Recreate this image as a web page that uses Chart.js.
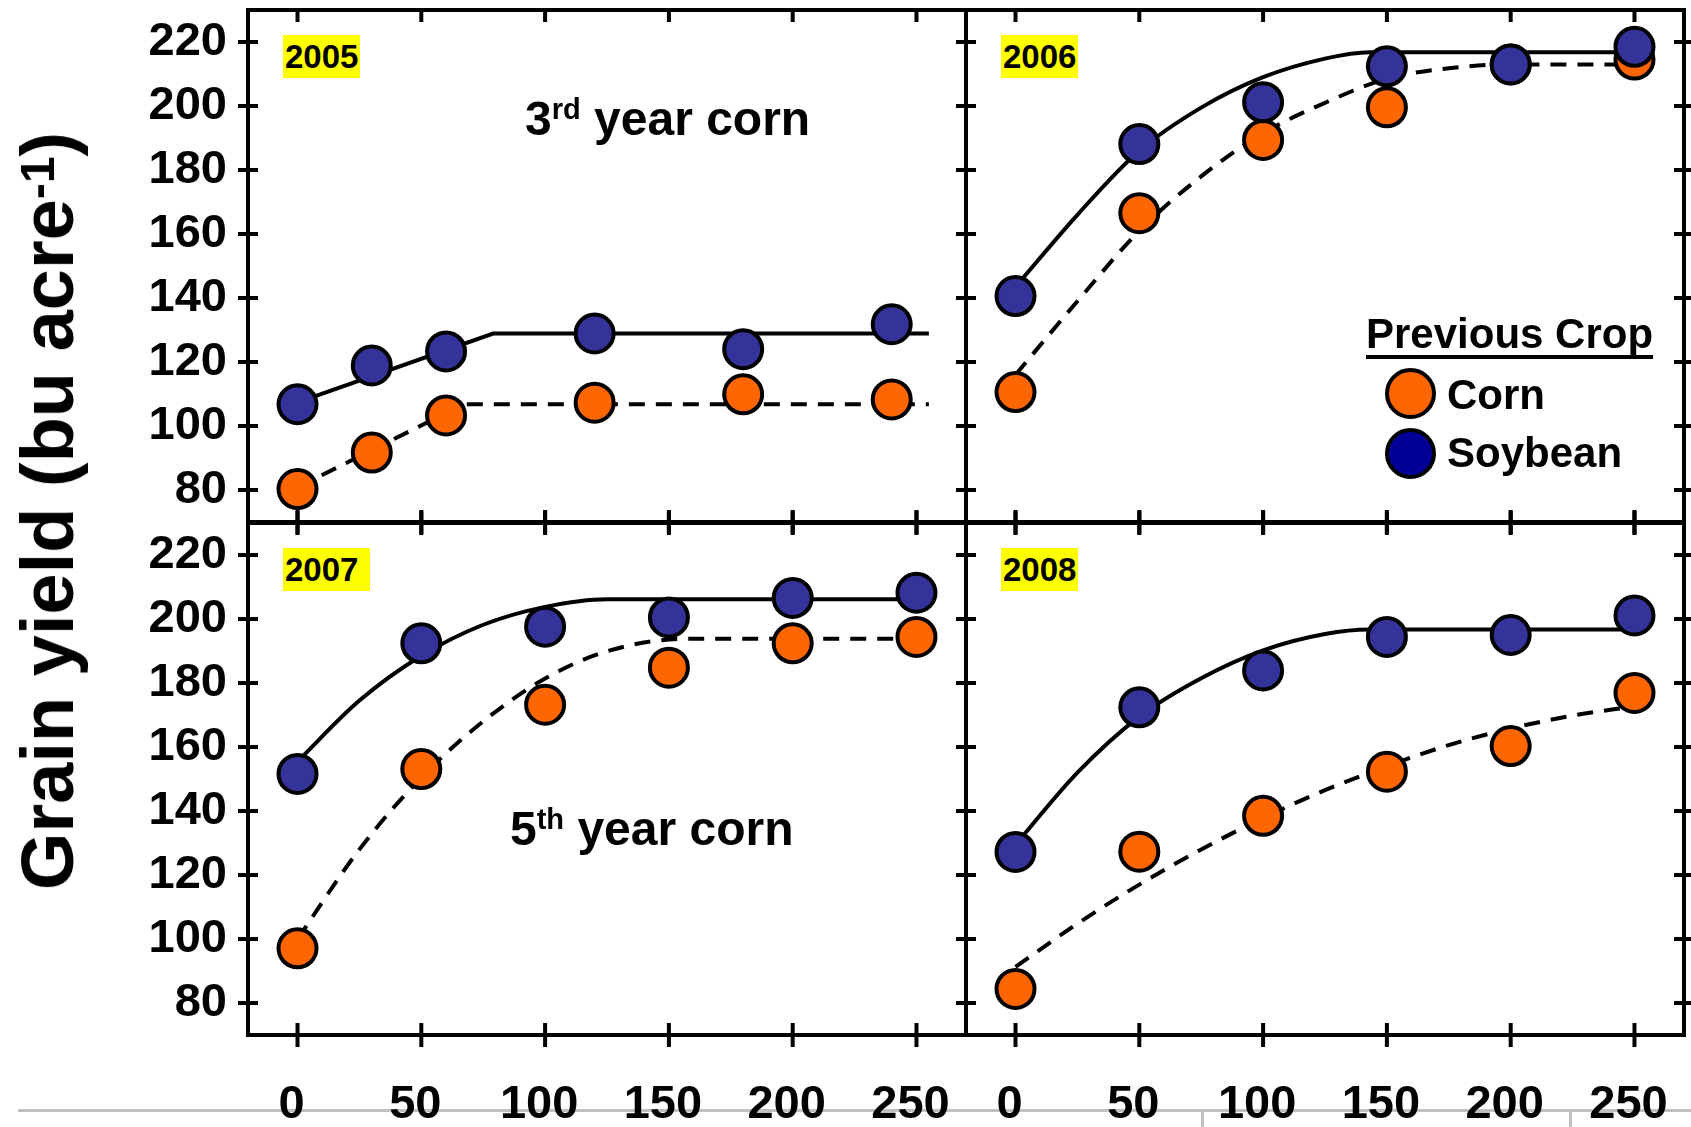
<!DOCTYPE html>
<html>
<head>
<meta charset="utf-8">
<title>Grain yield by N rate</title>
<script src="https://cdn.jsdelivr.net/npm/chart.js@4.4.1/dist/chart.umd.min.js"></script>
<style>
  body { margin: 0; background: #fff; }
  #page {
    position: relative; width: 1691px; height: 1127px; overflow: hidden; background: #fff;
    font-family: "Liberation Sans", Arial, sans-serif; font-weight: bold; color: #000;
  }
  canvas { position: absolute; }
  .gray { position: absolute; background: #c0c0c0; }
  .year { position: absolute; background: #ffff00; font-size: 33px; line-height: 43px; height: 43px; padding: 0 2px; white-space: pre; }
  .note { position: absolute; font-size: 48px; line-height: 48px; white-space: nowrap; }
  .note sup { font-size: 29px; line-height: 0; vertical-align: baseline; position: relative; top: -16px; }
  .legTxt { position: absolute; font-size: 42px; line-height: 42px; white-space: nowrap; }
  #legTitle { border-bottom: 4px solid #000; }
  .dot { position: absolute; width: 51px; height: 51px; box-sizing: border-box; border: 4px solid #000; border-radius: 50%; }
  #ytitle {
    position: absolute; left: 48px; top: 511px; font-size: 74px; line-height: 74px; white-space: nowrap;
    transform: translate(-50%, -50%) rotate(-90deg);
  }
  #ytitle sup { font-size: 48px; line-height: 0; vertical-align: baseline; position: relative; top: -19px; }
</style>
</head>
<body>
<div id="page">
  <div class="gray" style="left:18px;top:1109px;width:1673px;height:3px"></div>
  <div class="gray" style="left:1201px;top:1110px;width:3px;height:17px"></div>
  <div class="gray" style="left:1569px;top:1110px;width:3px;height:17px"></div>

  <canvas id="c2005" width="982" height="538" style="left:0;top:0"></canvas>
  <canvas id="c2006" width="741" height="538" style="left:950px;top:0"></canvas>
  <canvas id="c2007" width="982" height="620" style="left:0;top:507px"></canvas>
  <canvas id="c2008" width="741" height="620" style="left:950px;top:507px"></canvas>

  <div class="year" style="left:283px;top:35px">2005</div>
  <div class="year" style="left:1001px;top:35px">2006</div>
  <div class="year" style="left:283px;top:548px">2007 </div>
  <div class="year" style="left:1001px;top:548px">2008</div>

  <div class="note" style="left:525px;top:95px">3<sup>rd</sup> year corn</div>
  <div class="note" style="left:510px;top:805px">5<sup>th</sup> year corn</div>

  <div class="legTxt" id="legTitle" style="left:1366px;top:313px">Previous Crop</div>
  <div class="dot" style="left:1385px;top:368px;background:#ff6600"></div>
  <div class="legTxt" style="left:1447px;top:374px">Corn</div>
  <div class="dot" style="left:1385px;top:428px;background:#000099"></div>
  <div class="legTxt" style="left:1447px;top:432px">Soybean</div>

  <div id="ytitle">Grain yield (bu acre<sup>-1</sup>)</div>
</div>

<script>
// axis ticks
const xTicks = [0, 50, 100, 150, 200, 250];
const yTicks = [80, 100, 120, 140, 160, 180, 200, 220];

// N rates (x)
const nRates2005 = [0, 30, 60, 120, 180, 240];
const nRates = [0, 50, 100, 150, 200, 250];

// measured yields, previous crop corn / soybean
const corn2005 = [80.3, 91.7, 103.3, 107.3, 109.9, 108.3];
const soy2005 = [106.8, 118.9, 123.3, 128.9, 124.0, 131.8];
const corn2006 = [110.6, 166.5, 189.4, 199.6, 213.0, 214.5];
const soy2006 = [140.6, 188.1, 201.2, 212.4, 213.0, 218.5];
const corn2007 = [97.1, 153.1, 173.2, 184.8, 192.4, 194.4];
const soy2007 = [151.6, 192.4, 197.6, 200.5, 206.6, 208.2];
const corn2008 = [84.4, 127.3, 138.5, 152.3, 160.3, 176.9];
const soy2008 = [127.2, 172.4, 183.9, 194.4, 195.0, 201.1];

// fitted response curves
const fitRateSoy2005 = [0, 79, 255];
const fitSoy2005 = [107.4, 128.9, 128.9];
const fitRateCorn2005 = [0, 67, 255];
const fitCorn2005 = [80.8, 106.8, 106.8];

const fitRateSoy2006 = [0, 25, 50, 75, 100, 125, 143, 255];
const fitSoy2006 = [143.5, 166, 186, 199.5, 209, 214.8, 216.8, 216.8];
const fitRateCorn2006 = [0, 25, 50, 75, 100, 125, 150, 175, 200, 255];
const fitCorn2006 = [116, 139, 161, 178, 191.5, 201, 208.5, 211.8, 213, 213];

const fitRateSoy2007 = [0, 25, 50, 75, 100, 125, 255];
const fitSoy2007 = [155.5, 174.5, 188.5, 198.2, 203.8, 206.2, 206.2];
const fitRateCorn2007 = [0, 25, 50, 75, 100, 125, 157, 255];
const fitCorn2007 = [100, 128, 150.5, 168, 181.4, 189.9, 193.8, 193.8];

const fitRateSoy2008 = [0, 25, 50, 75, 100, 125, 143, 255];
const fitSoy2008 = [129.5, 152, 169.5, 181.5, 190.2, 195.3, 196.7, 196.7];
const fitRateCorn2008 = [0, 25, 50, 75, 100, 125, 150, 175, 200, 225, 250];
const fitCorn2008 = [91.3, 104.8, 117, 128, 137.8, 146.5, 154, 160.6, 165.8, 169.8, 172.7];

const FONT = '"Liberation Sans", Arial, sans-serif';
const pts = (xs, ys) => xs.map((x, i) => ({ x: x, y: ys[i] }));

// border box plus tick marks crossing the frame, like the original plot
const frame = {
    id: 'frame',
    afterDraw(chart, args, opts) {
        const { ctx, chartArea: a } = chart;
        const x = chart.scales.x, y = chart.scales.y;
        ctx.save();
        ctx.strokeStyle = '#000';
        ctx.lineWidth = 4;
        ctx.strokeRect(a.left, a.top, a.right - a.left, a.bottom - a.top);
        ctx.beginPath();
        xTicks.forEach(v => {
            const px = x.getPixelForValue(v);
            ctx.moveTo(px, a.top - (opts.topInside ? 0 : 12));
            ctx.lineTo(px, a.top + 12);
            ctx.moveTo(px, a.bottom - 12);
            ctx.lineTo(px, a.bottom + 12);
        });
        yTicks.forEach(v => {
            const py = y.getPixelForValue(v);
            ctx.moveTo(a.left - 10, py);
            ctx.lineTo(a.left + 10, py);
            ctx.moveTo(a.right - 10, py);
            ctx.lineTo(a.right + 10, py);
        });
        ctx.stroke();
        ctx.restore();
    }
};

function fitSet(xs, ys, dashed, curved) {
    return {
        data: pts(xs, ys),
        showLine: true,
        pointRadius: 0,
        borderColor: '#000',
        borderWidth: 4,
        borderDash: dashed ? [16, 11] : [],
        cubicInterpolationMode: curved ? 'monotone' : 'default',
        tension: 0,
        order: dashed ? 3 : 4
    };
}

function pointSet(xs, ys, color, order) {
    return {
        data: pts(xs, ys),
        showLine: false,
        pointStyle: 'circle',
        pointRadius: 19,
        pointBackgroundColor: color,
        pointBorderColor: '#000',
        pointBorderWidth: 4,
        order: order
    };
}

function makePanel(p) {
    const ctx = document.getElementById(p.id).getContext('2d');
    return new Chart(ctx, {
        type: 'scatter',
        data: {
            datasets: [
                fitSet(p.fitRateSoy, p.fitSoy, false, p.curved),
                fitSet(p.fitRateCorn, p.fitCorn, true, p.curved),
                pointSet(p.rates, p.corn, '#ff6600', 2),
                pointSet(p.rates, p.soy, '#333399', 1)
            ]
        },
        options: {
            responsive: false,
            animation: false,
            devicePixelRatio: 1,
            events: [],
            layout: { autoPadding: false, padding: { left: 0, top: p.pad.t, right: p.pad.r, bottom: 0 } },
            plugins: {
                legend: { display: false },
                tooltip: { enabled: false },
                frame: { topInside: p.topInside }
            },
            scales: {
                x: {
                    type: 'linear', position: 'bottom', min: -20, max: 270,
                    grid: { display: false, drawTicks: false },
                    border: { display: false },
                    afterBuildTicks: s => { s.ticks = xTicks.map(v => ({ value: v })); },
                    afterFit: s => { s.height = p.pad.b; s.paddingLeft = 0; s.paddingRight = 0; },
                    ticks: {
                        display: p.xLabels, autoSkip: false, maxRotation: 0, padding: 42, labelOffset: -6,
                        color: '#000', font: { family: FONT, size: 47, weight: 'bold' }
                    }
                },
                y: {
                    type: 'linear', position: 'left', min: 70, max: 230,
                    grid: { display: false, drawTicks: false },
                    border: { display: false },
                    afterBuildTicks: s => { s.ticks = yTicks.map(v => ({ value: v })); },
                    afterFit: s => { s.width = p.pad.l; s.paddingTop = 0; s.paddingBottom = 0; },
                    ticks: {
                        display: p.yLabels, padding: 21,
                        color: '#000', font: { family: FONT, size: 47, weight: 'bold' }
                    }
                }
            }
        },
        plugins: [frame]
    });
}

makePanel({
    id: 'c2005', pad: { l: 248, t: 10, r: 16, b: 16 }, yLabels: true, xLabels: false, topInside: true, curved: false,
    rates: nRates2005, corn: corn2005, soy: soy2005,
    fitRateSoy: fitRateSoy2005, fitSoy: fitSoy2005, fitRateCorn: fitRateCorn2005, fitCorn: fitCorn2005
});
makePanel({
    id: 'c2006', pad: { l: 16, t: 10, r: 7, b: 16 }, yLabels: false, xLabels: false, topInside: true, curved: true,
    rates: nRates, corn: corn2006, soy: soy2006,
    fitRateSoy: fitRateSoy2006, fitSoy: fitSoy2006, fitRateCorn: fitRateCorn2006, fitCorn: fitCorn2006
});
makePanel({
    id: 'c2007', pad: { l: 248, t: 16, r: 16, b: 92 }, yLabels: true, xLabels: true, topInside: false, curved: true,
    rates: nRates, corn: corn2007, soy: soy2007,
    fitRateSoy: fitRateSoy2007, fitSoy: fitSoy2007, fitRateCorn: fitRateCorn2007, fitCorn: fitCorn2007
});
makePanel({
    id: 'c2008', pad: { l: 16, t: 16, r: 7, b: 92 }, yLabels: false, xLabels: true, topInside: false, curved: true,
    rates: nRates, corn: corn2008, soy: soy2008,
    fitRateSoy: fitRateSoy2008, fitSoy: fitSoy2008, fitRateCorn: fitRateCorn2008, fitCorn: fitCorn2008
});
</script>
</body>
</html>
